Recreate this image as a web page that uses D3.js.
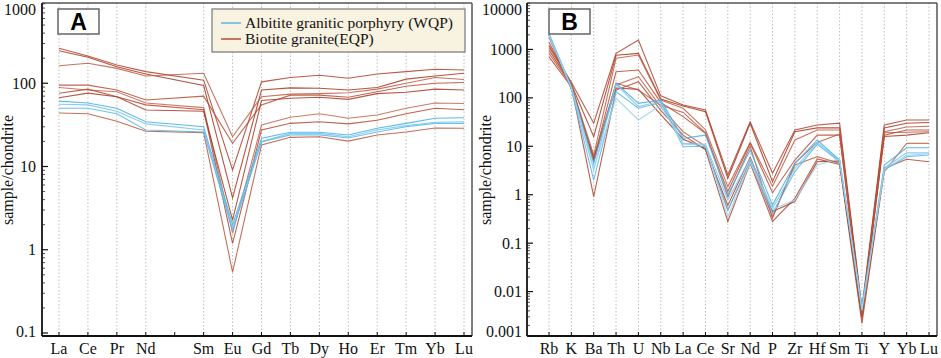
<!DOCTYPE html>
<html>
<head>
<meta charset="utf-8">
<script src="https://cdn.jsdelivr.net/npm/d3@7"></script>
<style>
  body { margin: 0; background: #fff; }
  svg { display: block; }
</style>
</head>
<body>
<script>
// Diagramas de REE (A) y elementos traza (B) normalizados a condrita

const WIDTH = 941,
    HEIGHT = 358;

const SERIF = '"Liberation Serif", "Times New Roman", "DejaVu Serif", serif';

// Panel A: tierras raras (Pm sin dato ni etiqueta)
const slotsA = ['La', 'Ce', 'Pr', 'Nd', 'Pm', 'Sm', 'Eu', 'Gd', 'Tb', 'Dy', 'Ho', 'Er', 'Tm', 'Yb', 'Lu'];
const elemsA = ['La', 'Ce', 'Pr', 'Nd', 'Sm', 'Eu', 'Gd', 'Tb', 'Dy', 'Ho', 'Er', 'Tm', 'Yb', 'Lu'];
const ticksA = [0.1, 1, 10, 100, 1000];

// Biotite granite (EQP)
const eqpA = [
    [263, 212, 166, 138, 109, 9.1, 104, 117, 125, 115, 129, 138, 147, 144],
    [246, 205, 158, 129, 94, 4.2, 83, 88, 87, 83, 89, 112, 122, 132],
    [162, 174, 151, 122, 132, 22.8, 69, 74, 75, 77, 85, 100, 117, 111],
    [95, 95, 83, 63, 70, 19, 55, 72, 72, 68, 79, 92, 100, 102],
    [89, 83, 79, 58, 51, 1.58, 31.5, 39, 43, 38, 41.6, 50, 58, 57],
    [76, 85, 69, 55, 48, 1.19, 27.5, 33, 34.5, 32.5, 36, 43, 50, 48],
    [67, 76, 69, 47.7, 46, 2.27, 62, 66, 68, 64, 75, 78, 85, 83],
    [44, 43, 35, 26.5, 25.5, 0.54, 18.2, 22.4, 22.8, 20.2, 23.9, 26, 29, 28.8]
];

// Albitite granitic porphyry (WQP)
const wqpA = [
    [61, 58, 50, 34.5, 30, 2.0, 21.8, 25.8, 25.8, 23.9, 28.8, 33, 38, 38.5],
    [56, 55, 46, 32.5, 27.5, 1.81, 20, 25, 25, 22.8, 27.5, 31, 34, 34.5],
    [50, 50, 43, 27.5, 26, 1.7, 19.7, 24, 24, 22, 26, 30, 33, 33]
];

// Panel B: elementos traza
const elemsB = ['Rb', 'K', 'Ba', 'Th', 'U', 'Nb', 'La', 'Ce', 'Sr', 'Nd', 'P', 'Zr', 'Hf', 'Sm', 'Ti', 'Y', 'Yb', 'Lu'];
const ticksB = [0.001, 0.01, 0.1, 1, 10, 100, 1000, 10000];

const eqpB = [
    [1200, 210, 30, 830, 1567, 110, 71, 56, 2.55, 32, 2.77, 21.7, 27.5, 30, 0.0045, 27.5, 35, 35],
    [960, 190, 15.8, 760, 830, 95, 68, 52, 2.18, 30, 1.86, 20, 24, 24, 0.004, 24, 30, 31],
    [830, 180, 6.6, 656, 767, 90, 61, 22, 1.47, 12, 1.5, 13.5, 21.7, 21.7, 0.0035, 20, 25, 26],
    [700, 170, 5.2, 347, 376, 80, 41, 18.6, 1.16, 11.5, 1.1, 5.2, 17, 17, 0.003, 17, 21.7, 21.7],
    [2000, 160, 6.0, 184, 274, 65, 20, 10, 0.48, 5, 0.35, 4.1, 6.1, 4.46, 0.0028, 3.0, 11.5, 11.5],
    [1400, 175, 0.91, 145, 216, 55, 17, 8.5, 0.28, 4.46, 0.28, 0.84, 5.5, 4.2, 0.0022, 3.5, 5.4, 4.8],
    [1800, 150, 5.5, 160, 150, 45, 14, 9, 0.6, 6, 0.45, 0.72, 4.8, 5.0, 0.003, 16, 17, 19],
    [1100, 200, 4.8, 200, 145, 70, 50, 19, 0.9, 10, 0.33, 4.5, 12, 18, 0.0032, 19, 19.5, 20]
];

const wqpB = [
    [2100, 170, 4.46, 200, 77, 90, 14.6, 17, 0.99, 8.4, 0.61, 4.46, 13.5, 5.2, 0.004, 4.1, 9.3, 9.3],
    [2050, 160, 3.24, 190, 66, 85, 11.5, 11, 0.78, 5.6, 0.52, 3.5, 12, 5.0, 0.0045, 3.6, 7.3, 7.3],
    [2000, 150, 2.0, 134, 61, 80, 9.8, 10, 0.48, 4.8, 0.41, 3.0, 11, 4.8, 0.005, 3.24, 6.1, 6.6],
    [1900, 165, 3.5, 98, 35, 70, 11, 10.5, 0.35, 4.6, 0.5, 0.78, 4.1, 5.5, 0.0042, 3.4, 6.5, 7.0]
];

const legendLabels = ['Albitite granitic porphyry (WQP)', 'Biotite granite(EQP)'];

const redShades = ['#b0402a', '#a8361f', '#bf5a44', '#b84a33', '#c2644e', '#b24630', '#a93b25', '#bb5640'];
const blueShades = ['#4cb3e6', '#7cc8ee', '#5dbbe8', '#9ad4f0'];

const svg = d3.select('body')
    .append('svg')
        .attr('width', WIDTH)
        .attr('height', HEIGHT);

const defs = svg.append('defs');

// Texto con fuente serif aplicada en línea
function serifText(sel) {
    return sel
        .attr('font-family', SERIF)
        .attr('font-size', 16)
        .attr('fill', '#111');
}

// Dibuja un panel completo: marco, rejilla, ejes y líneas
function drawPanel(cfg) {
    const {id, box, xScale, yScale, slots, elems, labels, ticks, red, blue, letter, letterX, labelX, tickX} = cfg;

    defs.append('clipPath').attr('id', 'clip' + id)
        .append('rect')
            .attr('x', box.left).attr('y', box.top)
            .attr('width', box.right - box.left).attr('height', box.bottom - box.top);

    const g = svg.append('g');

    // Rejilla punteada vertical
    g.selectAll('.grid')
        .data(labels)
        .enter().append('line')
            .attr('x1', d => xScale(d)).attr('x2', d => xScale(d))
            .attr('y1', box.top).attr('y2', box.bottom)
            .attr('stroke', '#bdbdbd')
            .attr('stroke-width', 1)
            .attr('stroke-dasharray', '1.5,2');

    // Líneas de muestras
    const line = d3.line()
        .x((d, i) => xScale(elems[i]))
        .y(d => yScale(d));

    const lines = g.append('g').attr('clip-path', `url(#clip${id})`);

    lines.selectAll('.eqp')
        .data(red)
        .enter().append('path')
            .attr('d', line)
            .attr('fill', 'none')
            .attr('stroke', (d, i) => redShades[i % redShades.length])
            .attr('stroke-width', 1.1)
            .attr('stroke-opacity', 0.85);

    lines.selectAll('.wqp')
        .data(blue)
        .enter().append('path')
            .attr('d', line)
            .attr('fill', 'none')
            .attr('stroke', (d, i) => blueShades[i % blueShades.length])
            .attr('stroke-width', 1.1)
            .attr('stroke-opacity', 0.9);

    // Marco
    g.append('line')
        .attr('x1', box.left).attr('x2', box.right)
        .attr('y1', box.top).attr('y2', box.top)
        .attr('stroke', '#555').attr('stroke-width', 1.5);
    g.append('line')
        .attr('x1', box.right).attr('x2', box.right)
        .attr('y1', box.top).attr('y2', box.bottom)
        .attr('stroke', '#555').attr('stroke-width', 1.5);
    g.append('line')
        .attr('x1', box.left).attr('x2', box.left)
        .attr('y1', box.top).attr('y2', box.bottom)
        .attr('stroke', '#111').attr('stroke-width', 1.8);
    g.append('line')
        .attr('x1', box.left).attr('x2', box.right)
        .attr('y1', box.bottom).attr('y2', box.bottom)
        .attr('stroke', '#111').attr('stroke-width', 1.8);

    // Ticks del eje x hacia adentro
    g.selectAll('.xtick')
        .data(slots)
        .enter().append('line')
            .attr('x1', d => xScale(d)).attr('x2', d => xScale(d))
            .attr('y1', box.bottom).attr('y2', box.bottom - 4)
            .attr('stroke', '#111');

    g.selectAll('.xlabel')
        .data(labels)
        .enter().append('text')
            .call(serifText)
            .attr('x', d => xScale(d))
            .attr('y', 354)
            .attr('text-anchor', 'middle')
            .text(d => d);

    // Ticks logarítmicos mayores y menores
    const minor = [];
    ticks.slice(0, -1).forEach(t => {
        for (let k = 2; k <= 9; k++) minor.push(t * k);
    });
    g.selectAll('.minor')
        .data(minor.filter(v => yScale(v) > box.top && yScale(v) < box.bottom))
        .enter().append('line')
            .attr('x1', box.left).attr('x2', box.left + 3)
            .attr('y1', yScale).attr('y2', yScale)
            .attr('stroke', '#222').attr('stroke-width', 0.8);
    g.selectAll('.major')
        .data(ticks.filter(v => yScale(v) >= box.top && yScale(v) <= box.bottom))
        .enter().append('line')
            .attr('x1', box.left).attr('x2', box.left + 6)
            .attr('y1', yScale).attr('y2', yScale)
            .attr('stroke', '#111').attr('stroke-width', 1.2);

    g.selectAll('.ylabel')
        .data(ticks)
        .enter().append('text')
            .call(serifText)
            .attr('x', tickX)
            .attr('y', d => Math.min(Math.max(yScale(d), 9), 331))
            .attr('dy', '0.35em')
            .attr('text-anchor', 'end')
            .text(d => d);

    g.append('text')
        .call(serifText)
        .attr('transform', `translate(${labelX},170) rotate(-90)`)
        .attr('text-anchor', 'middle')
        .text('sample/chondrite');

    // Caja de la letra del panel
    g.append('rect')
        .attr('x', letterX).attr('y', 9)
        .attr('width', 41).attr('height', 25)
        .attr('fill', '#fff')
        .attr('stroke', '#666').attr('stroke-width', 1.5);
    g.append('text')
        .attr('x', letterX + 20.5).attr('y', 29.5)
        .attr('text-anchor', 'middle')
        .attr('font-family', '"Liberation Sans", Arial, sans-serif')
        .attr('font-weight', 'bold')
        .attr('font-size', 23)
        .text(letter);

    return g;
}

const boxA = {left: 42, right: 472, top: 3, bottom: 336};
const boxB = {left: 527, right: 937, top: 3, bottom: 336};

const xA = d3.scalePoint().domain(slotsA).range([59, 464]);
const yA = d3.scaleLog().domain([0.1, 1000]).range([333, 0]);

const xB = d3.scalePoint().domain(elemsB).range([549, 929]);
const yB = d3.scaleLog().domain([0.001, 10000]).range([340, 1]);

const gA = drawPanel({
    id: 'A', box: boxA, xScale: xA, yScale: yA,
    slots: slotsA, elems: elemsA, labels: elemsA, ticks: ticksA,
    red: eqpA, blue: wqpA, letter: 'A', letterX: 58, labelX: 13, tickX: 36
});

drawPanel({
    id: 'B', box: boxB, xScale: xB, yScale: yB,
    slots: elemsB, elems: elemsB, labels: elemsB, ticks: ticksB,
    red: eqpB, blue: wqpB, letter: 'B', letterX: 549, labelX: 491, tickX: 522
});

// Leyenda del panel A
const legend = gA.append('g');
legend.append('rect')
    .attr('x', 212).attr('y', 9)
    .attr('width', 253).attr('height', 43)
    .attr('fill', '#f8f2e1')
    .attr('stroke', '#777').attr('stroke-width', 1.2);

const legendItems = legend.selectAll('.item')
    .data(legendLabels)
    .enter().append('g')
        .attr('transform', (d, i) => `translate(0,${i * 16})`);

legendItems.append('line')
    .attr('x1', 221).attr('x2', 241)
    .attr('y1', 23).attr('y2', 23)
    .attr('stroke', (d, i) => i === 0 ? '#4cb3e6' : '#b0402a')
    .attr('stroke-width', 1.4);

legendItems.append('text')
    .call(serifText)
    .attr('font-size', 15.5)
    .attr('x', 245).attr('y', 28)
    .text(d => d);
</script>
</body>
</html>
